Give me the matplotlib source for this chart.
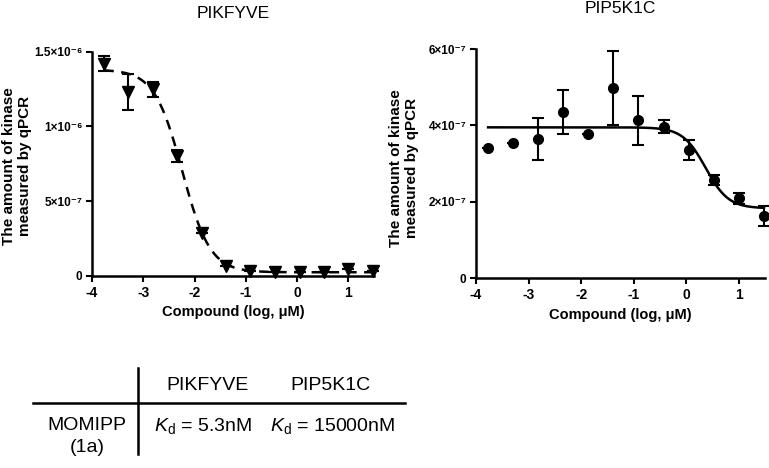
import numpy as np
import matplotlib
matplotlib.use("Agg")
import matplotlib.pyplot as plt
from matplotlib.ticker import FixedLocator, FixedFormatter

plt.rcParams['font.family'] = ['Liberation Sans', 'DejaVu Sans']
plt.rcParams['mathtext.fontset'] = 'custom'
plt.rcParams['mathtext.rm'] = 'Liberation Sans'
plt.rcParams['mathtext.it'] = 'Liberation Sans:italic'

# log10 concentration (uM), 3-fold dilution series
log_conc = [-3.77, -3.29, -2.82, -2.34, -1.86, -1.39, -0.91, -0.43, 0.05, 0.52, 1.0, 1.48]

# PIKFYVE
pik_mean = [1.42e-6, 1.23e-6, 1.25e-6, 0.80e-6, 0.29e-6, 0.07e-6, 0.035e-6, 0.03e-6, 0.03e-6, 0.03e-6, 0.045e-6, 0.035e-6]
pik_err = [0.05e-6, 0.12e-6, 0.05e-6, 0.04e-6, 0.0, 0.0, 0.0, 0.0, 0.0, 0.0, 0.0, 0.0]
pik_fit = dict(top=1.38e-6, bottom=0.025e-6, logic50=-2.24, hill=1.6)

# PIP5K1C
pip_mean = [3.42e-7, 3.53e-7, 3.64e-7, 4.35e-7, 3.78e-7, 4.97e-7, 4.13e-7, 3.97e-7, 3.36e-7, 2.56e-7, 2.09e-7, 1.63e-7]
pip_err = [0.0, 0.0, 0.55e-7, 0.57e-7, 0.0, 0.97e-7, 0.65e-7, 0.18e-7, 0.27e-7, 0.13e-7, 0.15e-7, 0.27e-7]
pip_fit = dict(top=3.95e-7, bottom=1.83e-7, logic50=0.37, hill=2.0)

x_ticks = [-4, -3, -2, -1, 0, 1]
pik_yticks = [0, 5e-7, 1e-6, 1.5e-6]
pik_ylabels = ["0", "5×10⁻⁷", "1×10⁻⁶", "1.5×10⁻⁶"]
pip_yticks = [0, 2e-7, 4e-7, 6e-7]
pip_ylabels = ["0", "2×10⁻⁷", "4×10⁻⁷", "6×10⁻⁷"]

table_cols = ["PIKFYVE", "PIP5K1C"]
table_row = ["MOMIPP", "(1a)"]
kd_values = ["5.3nM", "15000nM"]


def logistic(x, top, bottom, logic50, hill):
    return bottom + (top - bottom) / (1 + 10 ** ((x - logic50) * hill))


def style_axes(ax, yticks, ylabels, ymax):
    for s in ["top", "right"]:
        ax.spines[s].set_visible(False)
    for s in ["left", "bottom"]:
        ax.spines[s].set_linewidth(1.8)
    ax.set_xlim(-4, 1.5)
    ax.set_ylim(0, ymax)
    ax.xaxis.set_major_locator(FixedLocator(x_ticks))
    ax.set_xticklabels([str(t) for t in x_ticks], fontsize=10, fontweight="bold")
    ax.yaxis.set_major_locator(FixedLocator(yticks))
    ax.yaxis.set_major_formatter(FixedFormatter(ylabels))
    for lab in ax.get_yticklabels():
        lab.set_fontsize(8.5)
        lab.set_fontweight("bold")
    ax.tick_params(direction="out", length=4, width=1.5, pad=3)
    ax.set_xlabel("Compound (log, μM)", fontsize=10.5, fontweight="bold", labelpad=4)
    ax.patch.set_alpha(0)


fig = plt.figure(figsize=(7.69, 4.68), dpi=100)
W, H = 769, 468

ax1 = fig.add_axes([92 / W, 1 - 276 / H, 282 / W, 224.3 / H])
ax2 = fig.add_axes([476 / W, 1 - 278.3 / H, 289 / W, 229.3 / H])

eb_kw = dict(color="black", ecolor="black", elinewidth=1.5, capsize=4, capthick=1.5,
             linestyle="none", clip_on=False, zorder=3)

xs = np.linspace(log_conc[0], log_conc[-1], 300)

# PIKFYVE panel
ax1.plot(xs, logistic(xs, **pik_fit), color="black", lw=1.8, dashes=(4, 3), clip_on=False)
ax1.errorbar(log_conc, pik_mean, yerr=pik_err, marker="v", markersize=8.5, **eb_kw)
style_axes(ax1, pik_yticks, pik_ylabels, 1.5e-6)
ax1.set_title("PIKFYVE", fontsize=12.5, pad=24)

# PIP5K1C panel
ax2.plot(xs, logistic(xs, **pip_fit), color="black", lw=1.8, clip_on=False)
ax2.errorbar(log_conc, pip_mean, yerr=pip_err, marker="o", markersize=7, **eb_kw)
style_axes(ax2, pip_yticks, pip_ylabels, 6e-7)
ax2.set_title("PIP5K1C", fontsize=12.5, pad=26)

ylab = "The amount of kinase\nmeasured by qPCR"
fig.text(17 / W, 1 - 166 / H, ylab, rotation=90, ha="center", va="center",
         fontsize=11, fontweight="bold", multialignment="center", linespacing=1.1)
fig.text(404 / W, 1 - 168 / H, ylab, rotation=90, ha="center", va="center",
         fontsize=11, fontweight="bold", multialignment="center", linespacing=1.1)

# summary table
tab = fig.add_axes([0, 0, 1, 1])
tab.set_xlim(0, W)
tab.set_ylim(H, 0)
tab.axis("off")
tab.plot([33, 405], [403, 403], color="black", lw=1.8)
tab.plot([138, 138], [368, 454], color="black", lw=1.8)
tfont = dict(fontsize=14, ha="center", va="center")
tab.text(208, 385, table_cols[0], **tfont)
tab.text(330, 385, table_cols[1], **tfont)
tab.text(87, 425, table_row[0], **tfont)
tab.text(87, 448, table_row[1], **tfont)
tab.text(203, 426, r"$K_\mathrm{d}$ = " + kd_values[0], **tfont)
tab.text(333, 426, r"$K_\mathrm{d}$ = " + kd_values[1], **tfont)

fig.savefig("out.png", dpi=100)
